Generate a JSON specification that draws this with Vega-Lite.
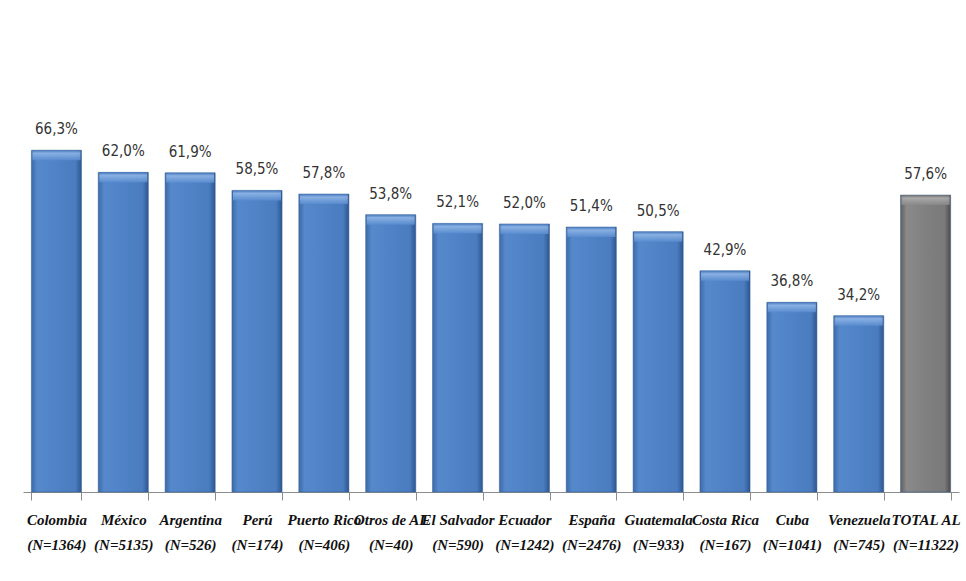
{
  "$schema": "https://vega.github.io/schema/vega-lite/v6.json",
  "width": 936,
  "height": 464,
  "autosize": {"type": "none"},
  "padding": {"left": 23, "top": 28, "right": 7, "bottom": 89},
  "background": "white",
  "config": {"view": {"stroke": null}},
  "data": {
    "values": [
      {"pais": "Colombia|(N=1364)", "pct": 66.3, "etiqueta": "66,3%", "tipo": "pais"},
      {"pais": "México|(N=5135)", "pct": 62.0, "etiqueta": "62,0%", "tipo": "pais"},
      {"pais": "Argentina|(N=526)", "pct": 61.9, "etiqueta": "61,9%", "tipo": "pais"},
      {"pais": "Perú|(N=174)", "pct": 58.5, "etiqueta": "58,5%", "tipo": "pais"},
      {"pais": "Puerto Rico|(N=406)", "pct": 57.8, "etiqueta": "57,8%", "tipo": "pais"},
      {"pais": "Otros de AL|(N=40)", "pct": 53.8, "etiqueta": "53,8%", "tipo": "pais"},
      {"pais": "El Salvador|(N=590)", "pct": 52.1, "etiqueta": "52,1%", "tipo": "pais"},
      {"pais": "Ecuador|(N=1242)", "pct": 52.0, "etiqueta": "52,0%", "tipo": "pais"},
      {"pais": "España|(N=2476)", "pct": 51.4, "etiqueta": "51,4%", "tipo": "pais"},
      {"pais": "Guatemala|(N=933)", "pct": 50.5, "etiqueta": "50,5%", "tipo": "pais"},
      {"pais": "Costa Rica|(N=167)", "pct": 42.9, "etiqueta": "42,9%", "tipo": "pais"},
      {"pais": "Cuba|(N=1041)", "pct": 36.8, "etiqueta": "36,8%", "tipo": "pais"},
      {"pais": "Venezuela|(N=745)", "pct": 34.2, "etiqueta": "34,2%", "tipo": "pais"},
      {"pais": "TOTAL AL|(N=11322)", "pct": 57.6, "etiqueta": "57,6%", "tipo": "total"}
    ]
  },
  "encoding": {
    "x": {
      "field": "pais",
      "type": "nominal",
      "sort": null,
      "scale": {"paddingInner": 0.25, "paddingOuter": 0.125},
      "axis": {
        "title": null,
        "labelAngle": 0,
        "labelExpr": "isValid(datum.value) ? split(datum.value, '|') : ''",
        "labelFont": "Liberation Serif, Times New Roman, DejaVu Serif, serif",
        "labelFontStyle": "italic",
        "labelFontWeight": "bold",
        "labelFontSize": 15,
        "labelLineHeight": 25,
        "labelColor": "#111111",
        "labelPadding": 12,
        "labelBaseline": "top",
        "labelOverlap": false,
        "labelLimit": 0,
        "tickBand": "extent",
        "tickSize": 8,
        "tickColor": "#8c8c8c",
        "domainColor": "#8c8c8c",
        "domainWidth": 1,
        "tickWidth": 1
      }
    },
    "y": {
      "field": "pct",
      "type": "quantitative",
      "scale": {"domain": [0, 90], "nice": false},
      "axis": null
    }
  },
  "layer": [
    {
      "mark": {"type": "bar", "stroke": "#2f5a92", "strokeWidth": 0.8, "strokeOpacity": 0.6},
      "encoding": {
        "color": {
          "condition": {
            "test": "datum.tipo == 'total'",
            "value": {
              "gradient": "linear", "x1": 0, "y1": 0, "x2": 1, "y2": 0,
              "stops": [
                {"offset": 0, "color": "#5e5e5e"},
                {"offset": 0.12, "color": "#8a8a8a"},
                {"offset": 0.5, "color": "#808080"},
                {"offset": 0.88, "color": "#7a7a7a"},
                {"offset": 1, "color": "#4a4a4a"}
              ]
            }
          },
          "value": {
            "gradient": "linear", "x1": 0, "y1": 0, "x2": 1, "y2": 0,
            "stops": [
              {"offset": 0, "color": "#3c6aa8"},
              {"offset": 0.12, "color": "#5689cc"},
              {"offset": 0.5, "color": "#4f82c6"},
              {"offset": 0.88, "color": "#4a7cbf"},
              {"offset": 1, "color": "#2d5690"}
            ]
          }
        }
      }
    },
    {
      "mark": {"type": "tick", "thickness": 10, "size": 48, "yOffset": 5, "opacity": 0.85},
      "encoding": {
        "color": {
          "condition": {
            "test": "datum.tipo == 'total'",
            "value": {
              "gradient": "linear", "x1": 0, "y1": 0, "x2": 0, "y2": 1,
              "stops": [
                {"offset": 0, "color": "#6a6a6a"},
                {"offset": 0.3, "color": "#b0b0b0"},
                {"offset": 1, "color": "#888888"}
              ]
            }
          },
          "value": {
            "gradient": "linear", "x1": 0, "y1": 0, "x2": 0, "y2": 1,
            "stops": [
              {"offset": 0, "color": "#4274b8"},
              {"offset": 0.3, "color": "#93b8e8"},
              {"offset": 1, "color": "#5a8dd0"}
            ]
          }
        }
      }
    },
    {
      "mark": {
        "type": "text",
        "baseline": "bottom",
        "dy": -13,
        "font": "Liberation Sans Narrow, DejaVu Sans Condensed, Liberation Sans",
        "fontSize": 15,
        "color": "#333333"
      },
      "encoding": {
        "text": {"field": "etiqueta", "type": "nominal"}
      }
    }
  ]
}
